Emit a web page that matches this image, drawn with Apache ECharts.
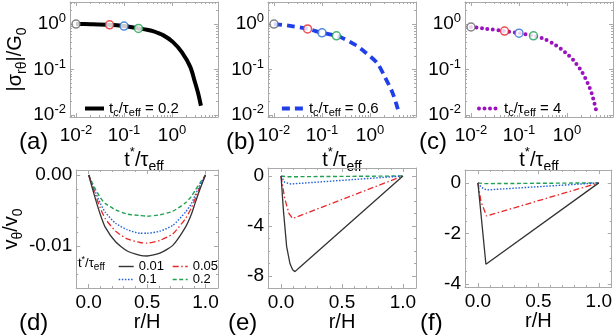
<!DOCTYPE html>
<html><head><meta charset="utf-8">
<script src="https://cdn.jsdelivr.net/npm/echarts@6/dist/echarts.min.js"></script>
<style>html,body{margin:0;padding:0;background:#fff}#c{width:615px;height:335px}</style>
</head><body><div id="c"></div>
<script>
// ---------------- data ----------------
// top row: |sigma_rtheta|/G0 vs t*/tau_eff (log-log)
const markT = [0.01, 0.05, 0.1, 0.2];
const tA = [0.01, 0.02, 0.05, 0.1, 0.2, 0.3, 0.4, 0.65, 1.05, 1.6, 2.4, 3.0, 3.5, 4.0];
const sA = [1.0, 0.99, 0.96, 0.90, 0.80, 0.75, 0.70, 0.57, 0.40, 0.24, 0.114, 0.053, 0.030, 0.016];
const mA = [1.0, 0.96, 0.90, 0.80];
const tB = [0.01, 0.02, 0.05, 0.1, 0.2, 0.27, 0.49, 0.79, 1.4, 2.05, 2.9, 3.5, 4.0];
const sB = [1.0, 0.92, 0.78, 0.64, 0.55, 0.49, 0.35, 0.24, 0.14, 0.068, 0.032, 0.018, 0.011];
const mB = [1.0, 0.78, 0.64, 0.55];
const tC = [0.01, 0.02, 0.05, 0.1, 0.2, 0.33, 0.54, 0.91, 1.4, 2.05, 2.7, 3.3, 4.1];
const sC = [0.86, 0.79, 0.70, 0.63, 0.55, 0.47, 0.36, 0.24, 0.154, 0.088, 0.05, 0.029, 0.012];
const mC = [0.86, 0.70, 0.63, 0.55];
const tcLabels = ['0.2', '0.6', '4'];

// bottom row: v_theta/v0 vs r/H
const seriesNames = ['0.01', '0.05', '0.1', '0.2'];
const rD = [0, 0.03, 0.06, 0.1, 0.14, 0.23, 0.33, 0.44, 0.5, 0.61, 0.72, 0.83, 0.88, 0.91, 0.95, 1];
const dBlack = [0, -0.0018, -0.0035, -0.0056, -0.0073, -0.0094, -0.0107, -0.0113, -0.0114, -0.0110, -0.0099, -0.0073, -0.0055, -0.0040, -0.0021, 0];
const dRed   = [0, -0.0015, -0.0029, -0.0047, -0.0061, -0.0079, -0.0090, -0.0095, -0.0096, -0.0092, -0.0083, -0.0061, -0.0046, -0.0034, -0.0018, 0];
const dBlue  = [0, -0.0013, -0.0025, -0.0040, -0.0052, -0.0068, -0.0077, -0.0082, -0.0082, -0.0079, -0.0071, -0.0052, -0.0040, -0.0029, -0.0015, 0];
const dGreen = [0, -0.0011, -0.0021, -0.0032, -0.0040, -0.0049, -0.0055, -0.0057, -0.0058, -0.0056, -0.0051, -0.0039, -0.0030, -0.0022, -0.0012, 0];

const rEBlack = [0, 0.019, 0.046, 0.073, 0.095, 0.114, 0.154, 1];
const eBlack  = [0, -2.7, -5.65, -7.0, -7.5, -7.65, -7.3, 0];
const rERed = [0, 0.03, 0.065, 0.095, 1];
const eRed  = [0, -1.8, -3.0, -3.4, 0];
const rEBlue = [0, 0.03, 0.08, 1];
const eBlue  = [0, -0.5, -0.64, 0];
const rEGreen = [0, 0.05, 1];
const eGreen  = [0, -0.06, 0];

const rFBlack = [0, 0.066, 1];
const fBlack  = [0, -3.22, 0];
const rFRed = [0, 0.025, 0.071, 1];
const fRed  = [0, -0.74, -1.31, 0];
const rFBlue = [0, 0.03, 0.07, 1];
const fBlue  = [0, -0.18, -0.28, 0];
const rFGreen = [0, 0.05, 1];
const fGreen  = [0, -0.03, 0];

// tick values
const logMajor = [-2, -1, 0];
const rMajor = [0, 0.5, 1];
const rMinor = [0, 0.1, 0.2, 0.3, 0.4, 0.5, 0.6, 0.7, 0.8, 0.9, 1];
const yDMajor = [0, -0.01];
const yDMinor = [-0.002, -0.004, -0.006, -0.008, -0.012, -0.014];
const yEMajor = [0, -4, -8];
const yEMinor = [-1, -2, -3, -5, -6, -7];
const yFMajor = [0, -2, -4];
const yFMinor = [-0.5, -1, -1.5, -2.5, -3, -3.5];

// ---------------- styling / layout ----------------
const FONT = '"Liberation Sans", Arial, sans-serif';
const FRAME = '#a9a9a9';
const markerColors = ['#666666', '#e8212b', '#2a6fd6', '#1fa155'];
const G = {
  a: [70, 2, 148, 115], b: [268, 2, 148, 115], c: [465, 2, 148, 115],
  d: [70, 170, 148, 118], e: [268, 168, 148, 120], f: [465, 170, 148, 117]
};
const logX = [-2.125, 0.958], logY = [-2.044, 0.484];
const linX = [-0.107, 1.107];
const yDR = [-0.0159, 0.0007], yER = [-8.96, 0.64], yFR = [-4.12, 0.51];

function logMinor(r) {
  const out = [];
  for (let n = -3; n <= 1; n++) for (let k = 2; k <= 9; k++) {
    const v = n + Math.log10(k);
    if (v > r[0] && v < r[1]) out.push(v);
  }
  return out;
}

const richTick = {
  b: { fontSize: 19, fontFamily: FONT, color: '#000', lineHeight: 24 },
  s: { fontSize: 13, fontFamily: FONT, color: '#000', lineHeight: 13, verticalAlign: 'top' }
};
const richName = {
  n: { fontSize: 20, fontFamily: FONT, color: '#000', lineHeight: 28 },
  p: { fontSize: 13, fontFamily: FONT, color: '#000', lineHeight: 13, verticalAlign: 'top' },
  d: { fontSize: 14, fontFamily: FONT, color: '#000', lineHeight: 14, verticalAlign: 'bottom' }
};
const richLeg = {
  n: { fontSize: 15, fontFamily: FONT, color: '#000', lineHeight: 20 },
  d: { fontSize: 11, fontFamily: FONT, color: '#000', lineHeight: 11, verticalAlign: 'bottom' }
};
const richSmall = {
  n: { fontSize: 13, fontFamily: FONT, color: '#000', lineHeight: 17 },
  p: { fontSize: 9, fontFamily: FONT, color: '#000', lineHeight: 9, verticalAlign: 'top' },
  d: { fontSize: 10, fontFamily: FONT, color: '#000', lineHeight: 10, verticalAlign: 'bottom' }
};

const grids = [], xAxes = [], yAxes = [], series = [];

function axis(dim, gi, pos, range, ticks, len, showLine, label, name) {
  const a = {
    gridIndex: gi, type: 'value', position: pos, min: range[0], max: range[1],
    axisLine: { show: showLine, onZero: false, lineStyle: { color: FRAME, width: 1 } },
    axisTick: { show: true, inside: true, length: len, customValues: ticks.filter(v => v >= range[0] && v <= range[1]), lineStyle: { color: FRAME, width: 1 } },
    axisLabel: { show: false },
    splitLine: { show: false }
  };
  if (label) {
    a.axisLabel = Object.assign({ show: true, customValues: ticks, color: '#000', fontFamily: FONT, fontSize: 19, showMinLabel: true, showMaxLabel: true }, label);
  }
  if (name) Object.assign(a, name);
  (dim === 'x' ? xAxes : yAxes).push(a);
  return (dim === 'x' ? xAxes : yAxes).length - 1;
}

function panel(box, xr, yr, xMaj, xMin, yMaj, yMin, xLab, yLab, xName, yName) {
  const gi = grids.length;
  grids.push({ left: box[0], top: box[1], width: box[2], height: box[3] });
  const xi = axis('x', gi, 'bottom', xr, xMaj, 4, true, xLab, xName);
  axis('x', gi, 'top', xr, xMaj, 4, true, null, null);
  axis('x', gi, 'bottom', xr, xMin, 2, false, null, null);
  axis('x', gi, 'top', xr, xMin, 2, false, null, null);
  const yi = axis('y', gi, 'left', yr, yMaj, 4, true, yLab, yName);
  axis('y', gi, 'right', yr, yMaj, 4, true, null, null);
  axis('y', gi, 'left', yr, yMin, 2, false, null, null);
  axis('y', gi, 'right', yr, yMin, 2, false, null, null);
  return [xi, yi];
}

const logFmt = v => '{b|10}{s|' + Math.round(v) + '}';
const logXLabel = { formatter: logFmt, rich: richTick, margin: 7 };
const logYLabel = { formatter: logFmt, rich: richTick, margin: 4 };
const tName = { name: '{n|t}{p|*}{n|/τ}{d|eff}', nameLocation: 'middle', nameGap: 27, nameTextStyle: { rich: richName } };
const rName = { name: 'r/H', nameLocation: 'middle', nameGap: 24, nameTextStyle: { fontSize: 20, fontFamily: FONT, color: '#000' } };
const rLabel = { formatter: v => v.toFixed(1), margin: 5 };

// top row panels
const topDefs = [
  { box: G.a, t: tA, s: sA, m: mA, name: 'A', style: { color: '#000', width: 4, type: 'solid' } },
  { box: G.b, t: tB, s: sB, m: mB, name: 'B', style: { color: '#1f3fe8', width: 3.8, type: [8, 5] } },
  { box: G.c, t: tC, s: sC, m: mC, name: 'C', style: { color: '#9b10bf', width: 4, type: [0, 5.5], cap: 'round' } }
];
topDefs.forEach((p, k) => {
  const yName = k === 0 ? { name: '{n||σ}{d|rθ}{n||/G}{d|0}', nameLocation: 'middle', nameGap: 38, nameRotate: 90, nameTextStyle: { rich: richName } } : null;
  const [xi, yi] = panel(p.box, logX, logY, logMajor, logMinor(logX), logMajor, logMinor(logY), logXLabel, logYLabel, tName, yName);
  series.push({
    type: 'line', name: p.name, xAxisIndex: xi, yAxisIndex: yi, symbol: 'none', smooth: 0.3,
    lineStyle: p.style, itemStyle: { color: p.style.color },
    data: p.t.map((t, i) => [Math.log10(t), Math.log10(p.s[i])]), z: 2
  });
  series.push({
    type: 'scatter', xAxisIndex: xi, yAxisIndex: yi, symbol: 'circle', symbolSize: 8, z: 5,
    data: markT.map((t, i) => ({ value: [Math.log10(t), Math.log10(p.m[i])], itemStyle: { color: '#fff', borderColor: markerColors[i], borderWidth: 1.5 } }))
  });
});

// bottom row panels
const botStyles = [
  { color: '#333333', width: 1.3, type: 'solid' },
  { color: '#e8282a', width: 1.3, type: [6, 2.5, 1.5, 2.5] },
  { color: '#2060d8', width: 1.4, type: [1.5, 1.6] },
  { color: '#20a050', width: 1.4, type: [4, 2.5] }
];
const botDefs = [
  { box: G.d, yr: yDR, maj: yDMajor, min: yDMinor, fmt: v => v === 0 ? '0.00' : v.toFixed(2),
    curves: [[rD, dBlack], [rD, dRed], [rD, dBlue], [rD, dGreen]], smooth: 0.2 },
  { box: G.e, yr: yER, maj: yEMajor, min: yEMinor, fmt: v => String(Math.round(v)),
    curves: [[rEBlack, eBlack], [rERed, eRed], [rEBlue, eBlue], [rEGreen, eGreen]], smooth: 0 },
  { box: G.f, yr: yFR, maj: yFMajor, min: yFMinor, fmt: v => String(Math.round(v)),
    curves: [[rFBlack, fBlack], [rFRed, fRed], [rFBlue, fBlue], [rFGreen, fGreen]], smooth: 0 }
];
botDefs.forEach((p, k) => {
  const yName = k === 0 ? { name: '{n|v}{d|θ}{n|/v}{d|0}', nameLocation: 'middle', nameGap: 44, nameRotate: 90, nameTextStyle: { rich: richName } } : null;
  const [xi, yi] = panel(p.box, linX, p.yr, rMajor, rMinor, p.maj, p.min, rLabel, { formatter: p.fmt, margin: 4 }, rName, yName);
  p.curves.forEach((c, j) => {
    series.push({
      type: 'line', name: seriesNames[j], xAxisIndex: xi, yAxisIndex: yi, symbol: 'none', smooth: p.smooth,
      lineStyle: botStyles[j], itemStyle: { color: botStyles[j].color },
      data: c[0].map((r, i) => [r, c[1][i]]), z: 3 - j * 0.1
    });
  });
});

const topLegend = (name, left, w, lw) => ({
  data: [name], left: left, top: 96, itemWidth: w, itemHeight: 10, selectedMode: false,
  itemStyle: { opacity: 0 }, lineStyle: { width: lw },
  formatter: () => '{n|t}{d|c}{n|/τ}{d|eff}{n| = ' + tcLabels['ABC'.indexOf(name)] + '}',
  textStyle: { rich: richLeg }
});
const smallLegend = (names, left) => ({
  data: names, left: left, top: 255, orient: 'vertical', itemWidth: 15, itemHeight: 10, itemGap: 0,
  itemStyle: { opacity: 0 }, lineStyle: { width: 1.4 },
  selectedMode: false, textStyle: { fontSize: 13, fontFamily: FONT, color: '#000' }
});

const panelLabel = (txt, x, y) => ({ type: 'text', left: x, top: y, style: { text: txt, fontSize: 24, fontFamily: FONT, fill: '#000' } });

const chart = echarts.init(document.getElementById('c'), null, { renderer: 'canvas' });
chart.setOption({
  animation: false,
  backgroundColor: '#fff',
  grid: grids, xAxis: xAxes, yAxis: yAxes, series: series,
  legend: [topLegend('A', 78, 19, 4), topLegend('B', 275, 22, 3.8), topLegend('C', 472, 20, 4),
           smallLegend(['0.01', '0.1'], 113), smallLegend(['0.05', '0.2'], 167)],
  graphic: [
    panelLabel('(a)', 19, 130), panelLabel('(b)', 226, 130), panelLabel('(c)', 419, 130),
    panelLabel('(d)', 19, 311), panelLabel('(e)', 228, 311), panelLabel('(f)', 420, 311),
    { type: 'text', left: 78, top: 255, style: { text: '{n|t}{p|*}{n|/τ}{d|eff}', rich: richSmall } }
  ]
});
</script></body></html>
